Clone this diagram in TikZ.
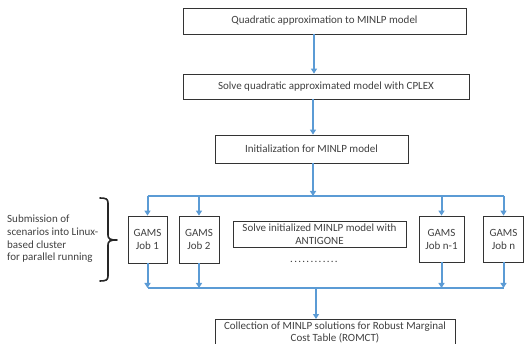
\documentclass[tikz,border=0pt]{standalone}
\usepackage{fontspec}
\setmainfont{Carlito}
\usetikzlibrary{arrows.meta}
\definecolor{flowblue}{RGB}{91,155,213}
\definecolor{txt}{RGB}{64,64,64}
\tikzset{
  box/.style={draw=black!80, line width=0.8pt, inner sep=1pt, align=center,
    text=txt, font=\fontsize{11}{13}\selectfont},
  bus/.style={draw=flowblue, line width=2pt},
  arr/.style={draw=flowblue, line width=2pt, -{Triangle[width=6pt,length=5pt]}},
}
\def\dd{.\kern1.3pt}
\begin{document}
\begin{tikzpicture}[x=1pt,y=-1pt]
\useasboundingbox (0,0) rectangle (524,344);
% boxes
\node[box, minimum width=283pt, minimum height=26pt] (b1) at (324.5,21) {Quadratic approximation to MINLP model};
\node[box, minimum width=286pt, minimum height=25pt] (b2) at (326,86.5) {Solve quadratic approximated model with CPLEX};
\node[box, minimum width=193pt, minimum height=28pt] (b3) at (311.5,149) {Initialization for MINLP model};
\node[box, minimum width=39pt, minimum height=47pt] (j1) at (147.5,239.5) {GAMS\\Job 1};
\node[box, minimum width=40pt, minimum height=47pt] (j2) at (199,239.5) {GAMS\\Job 2};
\node[box, minimum width=45pt, minimum height=46pt] (jn1) at (441.5,239) {GAMS\\Job n-1};
\node[box, minimum width=40pt, minimum height=46pt] (jn) at (503.5,239) {GAMS\\Job n};
\node[box, minimum width=173pt, minimum height=26pt] (solve) at (319.5,234) {Solve initialized MINLP model with\\ANTIGONE};
\node[box, minimum width=240pt, minimum height=26pt, anchor=north, font=\fontsize{11}{12.5}\selectfont] (b4) at (335,319) {Collection of MINLP solutions for Robust Marginal\\Cost Table (ROMCT)};
\node[text=txt, font=\fontsize{11}{12}\selectfont, inner sep=0pt] (dots) at (314,262) {\dd\dd\dd\dd\dd\dd\dd\dd\dd\dd\dd.};
\node[text=txt, font=\fontsize{11}{12.7}\selectfont, align=left, anchor=west, inner sep=0pt] (lbl) at (7,239)
  {Submission of\\scenarios into Linux-\\based cluster\\for parallel running};
% columns and buses
\coordinate (c1) at (314,0);
\coordinate (c2) at (313,0);
\coordinate (c3) at (316,0);
\coordinate (tb) at (0,196);
\coordinate (bb) at (0,288);
\draw[arr] (b1.south -| c1) -- (b2.north -| c1);
\draw[arr] (b2.south -| c2) -- (b3.north -| c2);
\draw[arr] (b3.south -| c2) -- (tb -| c2);
\draw[bus] (tb -| j1) -- (tb -| jn);
\foreach \j in {j1,j2,jn1,jn}{
  \draw[arr] (tb -| \j) -- (\j.north);
  \draw[arr] (\j.south) -- (bb -| \j);
}
\draw[bus] (bb -| j1) -- (bb -| jn);
\draw[arr] (bb -| c3) -- (b4.north -| c3);
% brace
\draw[black!85, line width=1.6pt, line cap=round, line join=round]
  (100,198) .. controls (106,198) and (108,199) .. (108,203)
  -- (108,235) .. controls (108,239) and (110,240) .. (117,240)
  .. controls (110,240) and (108,241) .. (108,245)
  -- (108,276) .. controls (108,280) and (106,281) .. (100,281);
\end{tikzpicture}
\end{document}
